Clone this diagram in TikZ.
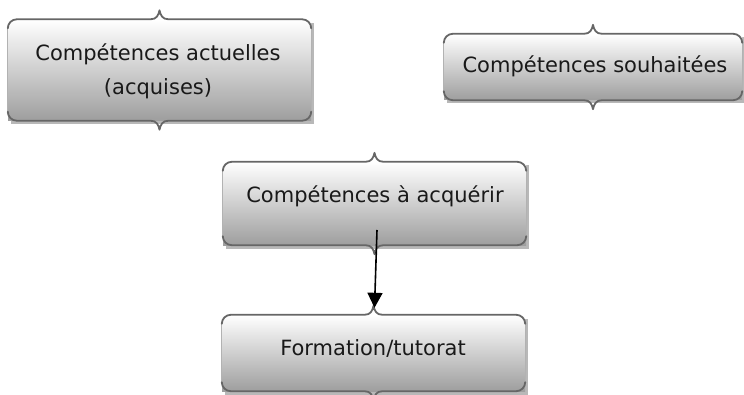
\documentclass[tikz,border=0pt]{standalone}
\usepackage{fontspec}
\setmainfont{DejaVu Sans}
\usetikzlibrary{arrows.meta,shadows}
\tikzset{
  boxshape/.style={rectangle, inner sep=0pt, top color=white, bottom color=black!38,
    drop shadow={shadow xshift=2.5pt, shadow yshift=-3.5pt, fill=black!28, opacity=1}},
  brc/.style={draw=black!60, line width=1.8pt, line cap=round, line join=round},
  sidel/.style={draw=black!30, line width=0.8pt},
  lbl/.style={font=\fontsize{21}{34}\selectfont, align=center, anchor=base, inner sep=0pt, text=black!90},
  arr/.style={draw=black, line width=1.6pt, -{Triangle[length=15pt,width=15pt]}}
}
\newcommand\boxbraces[1]{%
  \draw[sidel] ([yshift=-9pt]#1.north west) -- ([yshift=9pt]#1.south west);
  \draw[sidel] ([yshift=-9pt]#1.north east) -- ([yshift=9pt]#1.south east);
  \draw[brc] ([yshift=-9pt]#1.north west) arc[start angle=180,end angle=90,radius=9pt]
    -- ([xshift=-9pt]#1.north)
    .. controls ([xshift=-3pt]#1.north) and ([xshift=-1pt,yshift=4pt]#1.north) .. ([yshift=9pt]#1.north)
    .. controls ([xshift=1pt,yshift=4pt]#1.north) and ([xshift=3pt]#1.north) .. ([xshift=9pt]#1.north)
    -- ([xshift=-9pt]#1.north east) arc[start angle=90,end angle=0,radius=9pt];
  \draw[brc] ([yshift=9pt]#1.south west) arc[start angle=180,end angle=270,radius=9pt]
    -- ([xshift=-9pt]#1.south)
    .. controls ([xshift=-3pt]#1.south) and ([xshift=-1pt,yshift=-4pt]#1.south) .. ([yshift=-9pt]#1.south)
    .. controls ([xshift=1pt,yshift=-4pt]#1.south) and ([xshift=3pt]#1.south) .. ([xshift=9pt]#1.south)
    -- ([xshift=-9pt]#1.south east) arc[start angle=-90,end angle=0,radius=9pt];
}
\begin{document}
\begin{tikzpicture}[x=1pt,y=1pt]
\useasboundingbox (0,0) rectangle (744,394);
% boxes
\node[boxshape, minimum width=303pt, minimum height=101pt] (b1) at (159.5,324) {};
\node[boxshape, minimum width=298pt, minimum height=66pt] (b2) at (593,327) {};
\node[boxshape, minimum width=303pt, minimum height=83pt] (b3) at (374.5,190.5) {};
\node[boxshape, minimum width=303pt, minimum height=76pt] (b4) at (373.5,41) {};
\boxbraces{b1}
\boxbraces{b2}
\boxbraces{b3}
\boxbraces{b4}
% labels
\node[lbl] (t1) at (158,299) {Compétences actuelles\\(acquises)};
\node[lbl] (t2) at (595,321) {Compétences souhaitées};
\node[lbl] (t3) at (375,191) {Compétences à acquérir};
\node[lbl] (t4) at (373,39) {Formation/tutorat};
% arrow
\coordinate (a3) at (377,164);
\coordinate (a4) at ([xshift=1pt,yshift=7pt]b4.north);
\draw[arr] (a3) -- (a4);
\end{tikzpicture}
\end{document}
